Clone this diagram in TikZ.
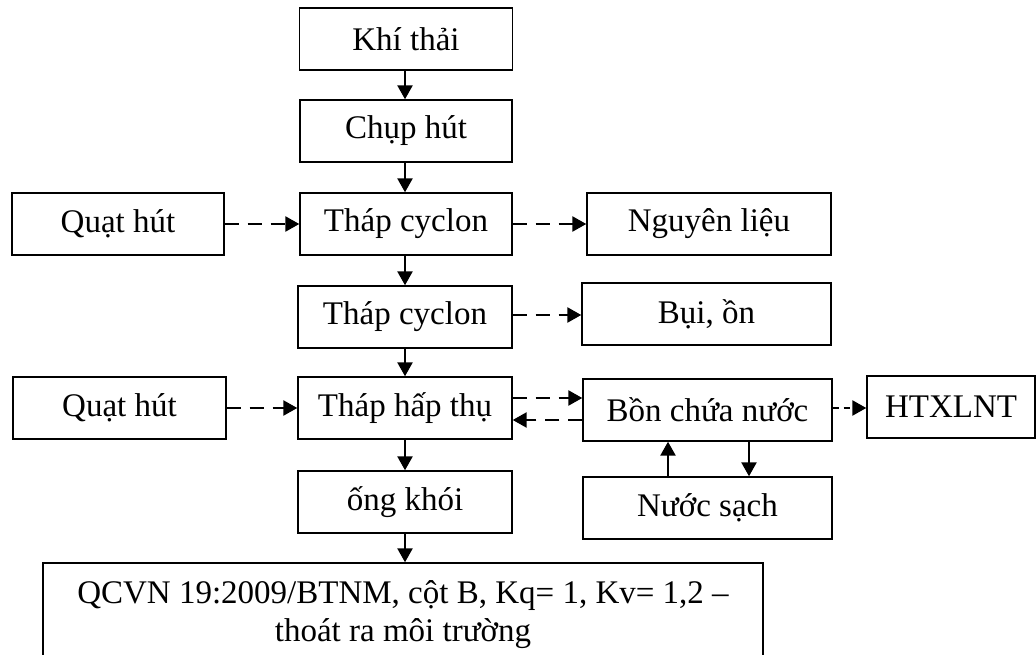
\documentclass[tikz,border=0pt]{standalone}
\usepackage{fontspec}
\setmainfont{Liberation Serif}
\usetikzlibrary{arrows.meta}
\begin{document}
\begin{tikzpicture}[x=1pt,y=-1pt,
  box/.style={draw, line width=1.4pt, minimum height=62pt, inner sep=0pt,
    font=\fontsize{33}{38}\selectfont, align=center},
  flow/.style={line width=2.5pt, -{Triangle[length=14pt,width=15pt]}},
  side/.style={flow, dash pattern=on 14pt off 9pt},
  shortside/.style={flow, dash pattern=on 6pt off 5pt}]
\useasboundingbox (0,0) rectangle (1036,655);

% main column
\node[box, minimum width=213pt] (khi)  at (406,39)  {Khí thải};
\node[box, minimum width=212pt] (chup) at (406,131) {Chụp hút};
\node[box, minimum width=212pt] (cyc1) at (406,224) {Tháp cyclon};
\node[box, minimum width=214pt] (cyc2) at (405,317) {Tháp cyclon};
\node[box, minimum width=214pt] (hap)  at (405,408) {Tháp hấp thụ};
\node[box, minimum width=214pt] (ong)  at (405,502) {ống khói};
\node[box, minimum width=720pt, minimum height=104pt] (qcvn) at (403,615)
  {QCVN 19:2009/BTNM, cột B, Kq= 1, Kv= 1,2 –\\thoát ra môi trường};

% side boxes
\node[box, minimum width=212pt] (quat1)  at (118,224)   {Quạt hút};
\node[box, minimum width=213pt] (quat2)  at (119.5,408) {Quạt hút};
\node[box, minimum width=244pt] (nguyen) at (709,224)   {Nguyên liệu};
\node[box, minimum width=249pt] (bui)    at (706.5,314) {Bụi, ồn};
\node[box, minimum width=249pt] (bon)    at (707.5,410) {Bồn chứa nước};
\node[box, minimum width=168pt] (htx)    at (951,407)   {HTXLNT};
\node[box, minimum width=249pt] (nuoc)   at (707.5,508) {Nước sạch};

% vertical flow
\draw[flow] (khi.south -| 405,0) -- (chup.north -| 405,0);
\draw[flow] (chup.south -| 405,0) -- (cyc1.north -| 405,0);
\draw[flow] (cyc1.south -| 405,0) -- (cyc2.north -| 405,0);
\draw[flow] (cyc2.south -| 405,0) -- (hap.north -| 405,0);
\draw[flow] (hap.south -| 405,0) -- (ong.north -| 405,0);
\draw[flow] (ong.south -| 405,0) -- (qcvn.north -| 405,0);

% dashed side flows
\draw[side] (quat1.east) -- (cyc1.west);
\draw[side] (cyc1.east) -- (nguyen.west);
\draw[side] (cyc2.east |- 0,315) -- (bui.west |- 0,315);
\draw[side] (quat2.east) -- (hap.west);
\draw[side] (hap.east |- 0,398) -- (bon.west |- 0,398);
\draw[side] (bon.west |- 0,420) -- (hap.east |- 0,420);
\draw[shortside] (bon.east |- 0,408) -- (htx.west |- 0,408);

% water exchange
\draw[flow] (nuoc.north -| 668,0) -- (bon.south -| 668,0);
\draw[flow] (bon.south -| 749,0) -- (nuoc.north -| 749,0);
\end{tikzpicture}
\end{document}
